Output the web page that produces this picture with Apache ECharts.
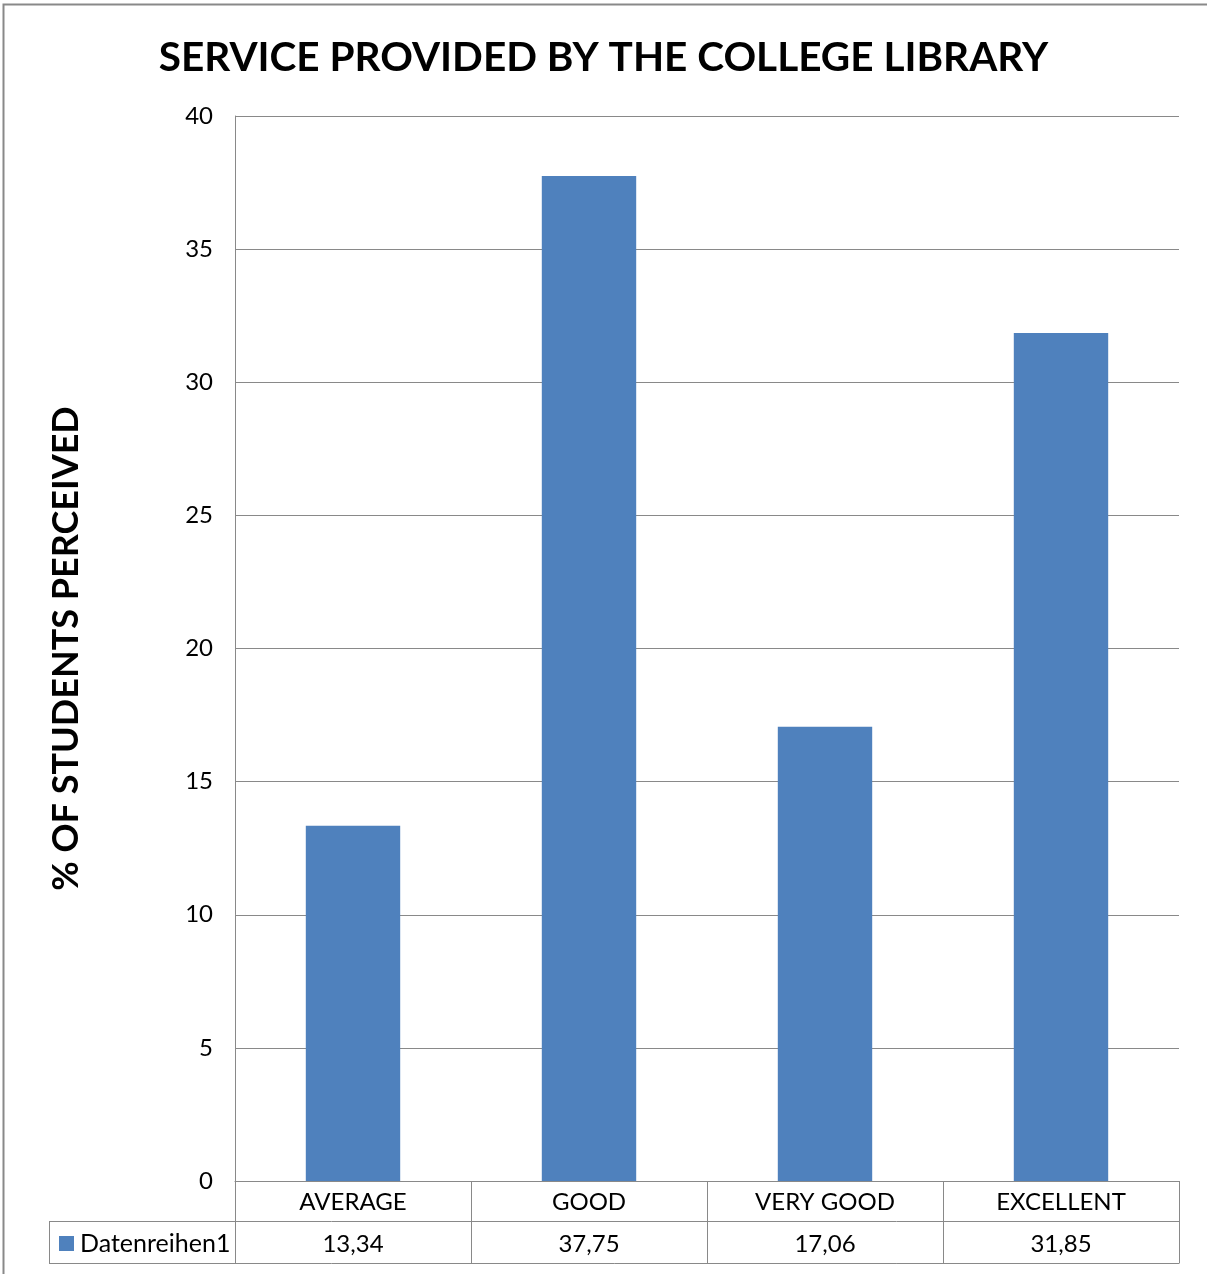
<!DOCTYPE html>
<html><head><meta charset="utf-8">
<script src="https://cdn.jsdelivr.net/npm/echarts@6/dist/echarts.min.js"></script>
<style>html,body{margin:0;padding:0;background:#fff}#c{width:1207px;height:1274px}</style>
</head><body><div id="c"></div>
<script>
const categories = ['AVERAGE', 'GOOD', 'VERY GOOD', 'EXCELLENT'];
const values = [13.34, 37.75, 17.06, 31.85];
const seriesName = 'Datenreihen1';
const yTicks = [0, 5, 10, 15, 20, 25, 30, 35, 40];
const titleText = 'SERVICE PROVIDED BY THE COLLEGE LIBRARY';
const yTitle = '% OF STUDENTS PERCEIVED';

const FONT = 'Lato';
const GRAY = '#898989';
const fmt = v => v.toFixed(2).replace('.', ',');
const chart = echarts.init(document.getElementById('c'), null, {renderer: 'canvas'});
chart.setOption({
  animation: false,
  backgroundColor: '#fff',
  title: {
    text: titleText, left: 'center', top: 32,
    textStyle: {fontFamily: FONT, fontWeight: 'bold', fontSize: 40.5, color: '#000'}
  },
  legend: {
    left: 54, top: 1226, itemWidth: 15, itemHeight: 15, icon: 'rect', itemGap: 6,
    textStyle: {fontFamily: FONT, fontSize: 25, color: '#000', padding: [0, 0, 0, 1]},
    data: [seriesName]
  },
  grid: {left: 235, right: 28, top: 116, bottom: 93, containLabel: false},
  xAxis: {
    type: 'category', data: categories,
    axisLine: {show: true, lineStyle: {color: GRAY, width: 1}},
    axisTick: {show: true, length: 82, lineStyle: {color: GRAY, width: 1}},
    axisLabel: {
      margin: 0, interval: 0,
      formatter: (v, i) => '{a|' + v + '}\n{b|' + fmt(values[i]) + '}',
      rich: {
        a: {fontFamily: FONT, fontSize: 24, color: '#000', lineHeight: 42, height: 42},
        b: {fontFamily: FONT, fontSize: 24, color: '#000', lineHeight: 42, height: 42}
      }
    }
  },
  yAxis: {
    type: 'value', min: yTicks[0], max: yTicks[yTicks.length - 1], interval: 5,
    name: yTitle, nameLocation: 'middle', nameGap: 151, nameRotate: 90,
    nameTextStyle: {fontFamily: FONT, fontWeight: 'bold', fontSize: 36, color: '#000'},
    axisLine: {show: true, lineStyle: {color: GRAY, width: 1}},
    axisTick: {show: false},
    axisLabel: {margin: 22, fontFamily: FONT, fontSize: 24, color: '#000'},
    splitLine: {show: true, lineStyle: {color: GRAY, width: 1}}
  },
  series: [{
    name: seriesName, type: 'bar', data: values, barWidth: '40%',
    itemStyle: {color: '#4F81BD'}
  }],
  graphic: [
    {type: 'rect', shape: {x: 3.5, y: 4.5, width: 1250, height: 1300}, style: {fill: null, stroke: GRAY, lineWidth: 2}, silent: true},
    {type: 'line', shape: {x1: 49, y1: 1221.5, x2: 1179, y2: 1221.5}, style: {stroke: GRAY, lineWidth: 1}},
    {type: 'line', shape: {x1: 49, y1: 1263.5, x2: 1179.5, y2: 1263.5}, style: {stroke: GRAY, lineWidth: 1}},
    {type: 'line', shape: {x1: 49.5, y1: 1221.5, x2: 49.5, y2: 1263.5}, style: {stroke: GRAY, lineWidth: 1}}
  ]
});
</script></body></html>
